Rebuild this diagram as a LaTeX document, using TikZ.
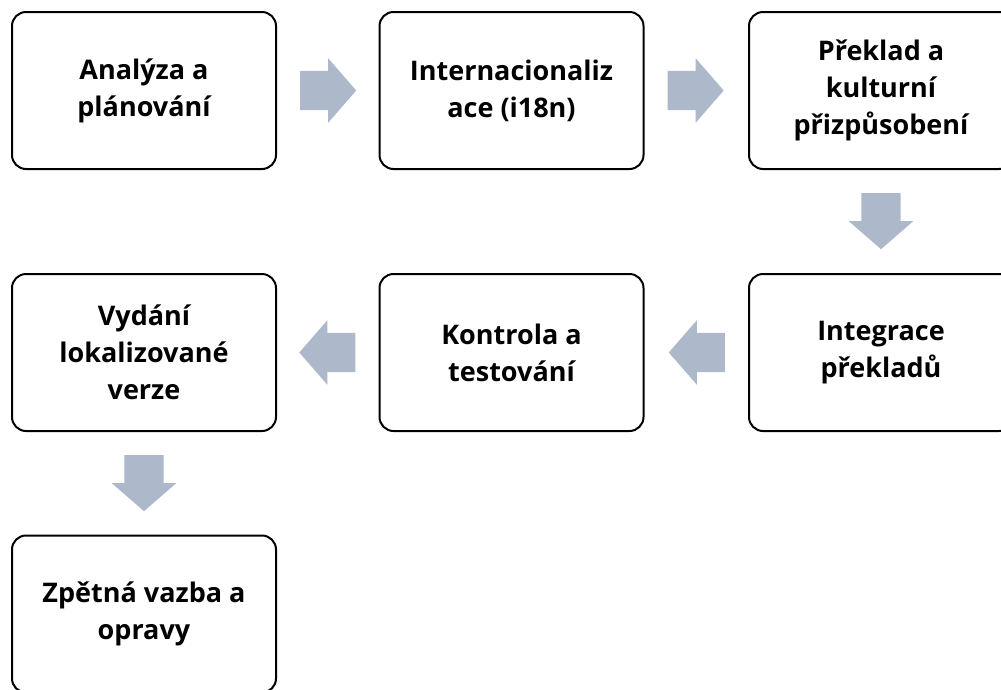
\documentclass[tikz,border=0pt]{standalone}
\usepackage{fontspec}
\setmainfont{Open Sans}
\usetikzlibrary{calc,shapes.arrows}
\definecolor{flowgrey}{RGB}{173,185,202}

\tikzset{
    stage/.style={draw=black, line width=2pt, rounded corners=14pt, fill=white,
        minimum width=264pt, minimum height=157pt, align=center, text=black,
        font=\fontsize{27}{37}\selectfont\bfseries},
    flow/.style={single arrow, fill=flowgrey, draw=none, anchor=tail,
        inner xsep=0pt, inner ysep=19.5pt,
        minimum height=56pt, single arrow head extend=12.5pt,
        single arrow tip angle=98},
}

\begin{document}
\begin{tikzpicture}[x=1pt,y=-1pt]
            \useasboundingbox (0,0) rectangle (1001,689);

            \node[stage] (s1) at (144,90.5) {Analýza a\\plánování};
            \node[stage] (s2) at (511.5,90.5) {Internacionaliz\\ace (i18n)};
            \node[stage] (s3) at (881,90.5) {Překlad a\\kulturní\\přizpůsobení};

            \node[stage] (s4) at (881,352.5) {Integrace\\překladů};
            \node[stage] (s5) at (511.5,352.5) {Kontrola a\\testování};
            \node[stage] (s6) at (144,352.5) {Vydání\\lokalizované\\verze};

            \node[stage] (s7) at (144,614) {Zpětná vazba a\\opravy};

            \node[flow] (a1) at ($(s1.east)!23pt!(s2.west)$) {};
            \node[flow] (a2) at ($(s2.east)!23pt!(s3.west)$) {};
            \node[flow, rotate=-90] (a3) at ($(s3.south)!23pt!(s4.north)$) {};
            \node[flow, rotate=180] (a4) at ($(s4.west)!23pt!(s5.east)$) {};
            \node[flow, rotate=180] (a5) at ($(s5.west)!23pt!(s6.east)$) {};
            \node[flow, rotate=-90] (a6) at ($(s6.south)!23pt!(s7.north)$) {};
        \end{tikzpicture}
\end{document}
